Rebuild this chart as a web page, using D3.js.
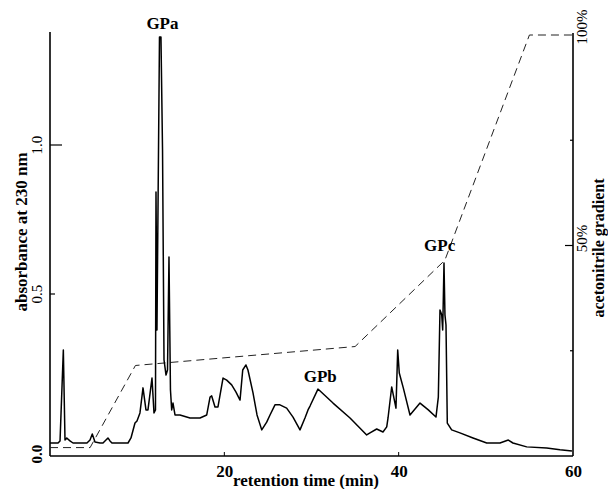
<!DOCTYPE html>
<html><head><meta charset="utf-8">
<script src="https://cdn.jsdelivr.net/npm/d3@7"></script>
<style>body{margin:0;background:#fff}svg{display:block}text{font-family:"Liberation Serif","Times New Roman",serif}</style>
</head><body>
<script>
// retention time (min)
const time = [0,0.92,1.15,1.53,1.72,1.92,2.29,2.64,4.24,4.59,4.85,5.16,5.74,6.08,6.42,6.65,6.88,7.11,8.95,9.29,9.75,9.98,10.32,10.67,11.01,11.24,11.70,11.93,12.10,12.16,12.27,12.56,12.73,12.91,13.08,13.31,13.48,13.65,13.82,13.96,14.11,14.34,14.91,16.06,17.21,17.98,18.36,18.55,18.93,19.27,19.85,20.27,20.84,21.34,21.80,22.11,22.48,22.71,23.29,23.75,24.29,24.86,25.24,25.81,26.38,27.15,27.88,28.68,29.25,29.60,29.83,30.74,32.47,34.42,36.33,36.71,37.48,38.20,38.63,38.78,39.20,39.69,39.89,40.07,40.53,41.30,42.45,43.40,44.28,44.55,44.74,44.94,45.05,45.12,45.20,45.31,45.43,45.58,46.08,47.03,48.53,50.10,51.62,52.58,53.11,54.69,56.98,58.51,59.88];
// absorbance at 230 nm
const absorbance = [0,0,0.007,0.312,0.010,0.017,0.007,0,0,0.010,0.030,0.003,0,0,0.010,0.017,0.007,0,0,0.017,0.067,0.074,0.101,0.185,0.111,0.111,0.218,0.101,0.111,0.842,0.379,1.362,1.362,0.983,0.279,0.228,0.245,0.624,0.178,0.111,0.134,0.094,0.094,0.084,0.084,0.094,0.154,0.158,0.121,0.121,0.218,0.211,0.195,0.171,0.144,0.245,0.262,0.245,0.168,0.094,0.044,0.070,0.094,0.128,0.128,0.117,0.087,0.044,0.084,0.111,0.124,0.181,0.134,0.084,0.027,0.034,0.047,0.037,0.054,0.084,0.188,0.117,0.312,0.235,0.185,0.094,0.134,0.111,0.087,0.154,0.446,0.430,0.379,0.480,0.604,0.430,0.396,0.067,0.044,0.034,0.017,0,0,0.010,0,-0.013,-0.017,-0.023,-0.027];
// acetonitrile gradient (%)
const gradTime = [0,4.6,9.8,35,45.3,55,60];
const gradPct = [2,2,21.5,26,46.5,100,100];
// ticks
const xTicks = [20,40,60];
const yTicks = [0,0.5,1.0];
const yTickLabels = ["0.0","0.5","1.0"];
const rTicks = [25,50,75,100];
const rTickLabels = {50:"50%",100:"100%"};
// peak labels
const peakNames = ["GPa","GPb","GPc"];
const peakTime = [12.9,31.0,44.7];
const peakAbs = [1.39,0.205,0.645];

const W=608,H=489;
const svg=d3.select("body").append("svg").attr("width",W).attr("height",H);
svg.append("rect").attr("width",W).attr("height",H).attr("fill","#fff");

const x=d3.scaleLinear().domain([0,60]).range([50,573]);
const y=d3.scaleLinear().domain([0,1]).range([443,145]);
const yR=d3.scaleLinear().domain([0,100]).range([456,35]);
const yBottom=456, yTop=32;

// frame
const frame=svg.append("g").attr("stroke","#000").attr("fill","none");
frame.append("line").attr("x1",50).attr("x2",50).attr("y1",yTop).attr("y2",yBottom).attr("stroke-width",1.6);
frame.append("line").attr("x1",50).attr("x2",573).attr("y1",yBottom).attr("y2",yBottom).attr("stroke-width",1.6);
frame.append("line").attr("x1",573).attr("x2",573).attr("y1",yR(100)-2).attr("y2",yBottom).attr("stroke-width",1.6);

// left axis ticks
const yAxis=d3.axisLeft(y).tickValues(yTicks.slice(1)).tickSize(0).tickFormat("");
svg.append("g").attr("transform","translate(50,0)").call(yAxis).call(g=>g.select(".domain").remove());
svg.append("g").selectAll("line").data(yTicks.slice(1)).join("line")
  .attr("x1",50).attr("x2",(d)=>d===1?62:55).attr("y1",d=>y(d)).attr("y2",d=>y(d)).attr("stroke","#000").attr("stroke-width",1.2);
svg.append("g").selectAll("text").data(yTicks).join("text")
  .attr("transform",(d)=>`translate(42,${d===0?454:y(d)}) rotate(-90)`)
  .attr("text-anchor","middle").attr("font-size",15)
  .attr("font-weight",(d)=>d===0?"bold":"normal")
  .text((d,i)=>yTickLabels[i]);

// bottom axis
const xAxis=d3.axisBottom(x).tickValues(xTicks).tickSize(0).tickFormat(d3.format("d"));
svg.append("g").attr("transform",`translate(0,${yBottom})`).call(xAxis)
  .call(g=>g.select(".domain").remove())
  .call(g=>g.selectAll("text").attr("font-family","Liberation Serif").attr("font-weight","bold").attr("font-size",17).attr("fill","#000").attr("dy","1.05em"));
svg.append("g").selectAll("line").data(xTicks.slice(0,2)).join("line")
  .attr("x1",d=>x(d)).attr("x2",d=>x(d)).attr("y1",yBottom).attr("y2",yBottom-4).attr("stroke","#000");

// right axis ticks
svg.append("g").selectAll("line").data(rTicks).join("line")
  .attr("x1",573).attr("x2",d=>d===50?565:(d===100?573:570)).attr("y1",d=>yR(d)).attr("y2",d=>yR(d)).attr("stroke","#000").attr("stroke-width",1.2);
svg.append("g").selectAll("text").data(rTicks.filter(d=>rTickLabels[d])).join("text")
  .attr("transform",d=>`translate(587,${d===100?yR(d)-8:yR(d)-7}) rotate(-90)`)
  .attr("text-anchor","middle").attr("font-size",15).text(d=>rTickLabels[d]);

// gradient dashed line
const gradData=gradTime.map((t,i)=>[t,gradPct[i]]);
svg.append("path").datum(gradData)
  .attr("d",d3.line().x(d=>x(d[0])).y(d=>yR(d[1])))
  .attr("fill","none").attr("stroke","#222").attr("stroke-width",1).attr("stroke-dasharray","8,5");

// chromatogram
const trace=time.map((t,i)=>[t,absorbance[i]]);
svg.append("path").datum(trace)
  .attr("d",d3.line().x(d=>x(d[0])).y(d=>y(d[1])))
  .attr("fill","none").attr("stroke","#000").attr("stroke-width",1.5).attr("stroke-linejoin","round");

// peak labels
svg.append("g").selectAll("text").data(peakNames).join("text")
  .attr("x",(d,i)=>x(peakTime[i])).attr("y",(d,i)=>y(peakAbs[i]))
  .attr("text-anchor","middle").attr("font-weight","bold").attr("font-size",17).text(d=>d);

// axis titles
svg.append("text").attr("x",306).attr("y",486).attr("text-anchor","middle")
  .attr("font-weight","bold").attr("font-size",17).text("retention time (min)");
svg.append("text").attr("transform","translate(27,232) rotate(-90)").attr("text-anchor","middle")
  .attr("font-weight","bold").attr("font-size",17).text("absorbance at 230 nm");
svg.append("text").attr("transform","translate(604,248) rotate(-90)").attr("text-anchor","middle")
  .attr("font-weight","bold").attr("font-size",16).text("acetonitrile gradient");
</script>
</body></html>
